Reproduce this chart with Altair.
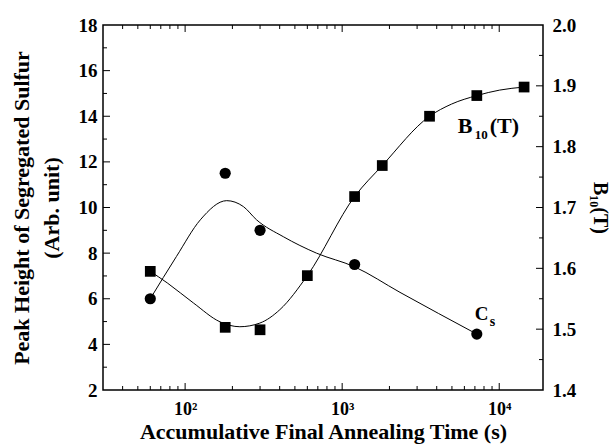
import altair as alt
import pandas as pd

# ---- data ----
cs_time = [60, 180, 300, 1200, 7200]
cs_peak = [6.0, 11.5, 9.0, 7.5, 4.45]

cs_fit_time = [60, 88, 125, 184, 235, 285, 422, 686, 1200, 2335, 7200]
cs_fit_peak = [6.0, 7.85, 9.46, 10.3, 10.04, 9.46, 8.72, 8.0, 7.4, 6.28, 4.45]

b10_time = [60, 180, 300, 600, 1200, 1800, 3600, 7200, 14400]
b10_val = [1.595, 1.503, 1.499, 1.588, 1.718, 1.769, 1.85, 1.884, 1.898]

b10_fit_time = [60, 77, 113, 167, 223, 299, 401, 600, 1200, 1800, 3600, 4970, 7200, 10070, 14400]
b10_fit_val = [1.595, 1.576, 1.543, 1.512, 1.504, 1.51, 1.532, 1.588, 1.718, 1.769, 1.85, 1.870, 1.884, 1.893, 1.898]

x_major_ticks = [100, 1000, 10000]
x_minor_ticks = [40, 50, 60, 70, 80, 90, 200, 300, 400, 500, 600, 700, 800, 900,
                 2000, 3000, 4000, 5000, 6000, 7000, 8000, 9000]
left_labels = [2, 4, 6, 8, 10, 12, 14, 16, 18]
left_major_ticks = [4, 6, 8, 10, 12, 14, 16]
left_minor_ticks = [3, 5, 7, 9, 11, 13, 15, 17]
right_labels = [1.4, 1.5, 1.6, 1.7, 1.8, 1.9, 2.0]
right_major_ticks = [1.5, 1.6, 1.7, 1.8, 1.9]
right_minor_ticks = [1.45, 1.55, 1.65, 1.75, 1.85, 1.95]

ann_text = ["B", "10", "(T)", "C", "s"]
ann_x = [5450, 6990, 8700, 6980, 8700]
ann_y = [13.27, 13.0, 13.27, 5.07, 4.8]
ann_size = [22, 13, 22, 19, 14]

FONT = "Liberation Serif"
W, H = 440, 365
XDOM = [30, 19000]

xscale = alt.Scale(type="log", domain=XDOM, nice=False)
yl = alt.Scale(domain=[2, 18], nice=False, zero=False)
yr = alt.Scale(domain=[1.4, 2.0], nice=False, zero=False)

cs_df = pd.DataFrame({"t": cs_time, "v": cs_peak})
cs_fit_df = pd.DataFrame({"t": cs_fit_time, "v": cs_fit_peak})
b_df = pd.DataFrame({"t": b10_time, "v": b10_val})
b_fit_df = pd.DataFrame({"t": b10_fit_time, "v": b10_fit_val})
ann_df = pd.DataFrame({"text": ann_text, "t": ann_x, "v": ann_y, "s": ann_size})

x_axis = alt.Axis(values=x_major_ticks, ticks=False, domain=False, grid=False,
                  labelExpr="datum.value == 100 ? '10²' : datum.value == 1000 ? '10³' : '10⁴'",
                  labelPadding=10, labelFontSize=18, titleFontSize=22, titleBaseline="alphabetic",
                  titleX=W / 2, titleY=48,
                  title="Accumulative Final Annealing Time (s)")

left_axis = alt.Axis(values=left_labels, ticks=False, domain=False, grid=False,
                     labelPadding=6,
                     title=["Peak Height of Segregated Sulfur", "(Arb. unit)"],
                     titleFontSize=22, titleLineHeight=30, titlePadding=15)

right_axis = alt.Axis(orient="right", values=right_labels, format=".1f",
                      ticks=False, domain=False, grid=False, labelPadding=9,
                      title="B₁₀(T)", titleFontSize=20, titlePadding=14)

X = alt.X("t:Q", scale=xscale, axis=x_axis)
YL = alt.Y("v:Q", scale=yl, axis=left_axis)
YR = alt.Y("v:Q", scale=yr, axis=right_axis)

cs_points = alt.Chart(cs_df).mark_point(shape="circle", filled=True, color="black", size=125, opacity=1).encode(
    x=X, y=YL)
cs_line = alt.Chart(cs_fit_df).mark_line(color="black", strokeWidth=1, interpolate="monotone").encode(
    x=X, y=YL)
ann = alt.Chart(ann_df).mark_text(font=FONT, fontWeight="bold", align="left", baseline="alphabetic",
                                  color="black").encode(
    x=X, y=YL, text="text:N", size=alt.Size("s:Q", scale=None, legend=None))


def ydf(vals):
    return pd.DataFrame({"v": vals})


def xdf(vals):
    return pd.DataFrame({"t": vals})


lt_major = alt.Chart(ydf(left_major_ticks)).mark_rule(color="black", strokeWidth=1).encode(
    y=YL, x=alt.value(0), x2=alt.value(7))
lt_minor = alt.Chart(ydf(left_minor_ticks)).mark_rule(color="black", strokeWidth=1).encode(
    y=YL, x=alt.value(0), x2=alt.value(4))

xb_major = alt.Chart(xdf(x_major_ticks)).mark_rule(color="black", strokeWidth=1).encode(
    x=X, y=alt.value(H), y2=alt.value(H - 7))
xb_minor = alt.Chart(xdf(x_minor_ticks)).mark_rule(color="black", strokeWidth=1).encode(
    x=X, y=alt.value(H), y2=alt.value(H - 4))
xt_major = alt.Chart(xdf(x_major_ticks)).mark_rule(color="black", strokeWidth=1).encode(
    x=X, y=alt.value(0), y2=alt.value(7))
xt_minor = alt.Chart(xdf(x_minor_ticks)).mark_rule(color="black", strokeWidth=1).encode(
    x=X, y=alt.value(0), y2=alt.value(4))

left_group = alt.layer(cs_points, cs_line, ann, lt_major, lt_minor, xb_major, xb_minor, xt_major, xt_minor)

b_points = alt.Chart(b_df).mark_point(shape="square", filled=True, color="black", size=115, opacity=1).encode(
    x=X, y=YR)
b_line = alt.Chart(b_fit_df).mark_line(color="black", strokeWidth=1, interpolate="monotone").encode(
    x=X, y=YR)
rt_major = alt.Chart(ydf(right_major_ticks)).mark_rule(color="black", strokeWidth=1).encode(
    y=YR, x=alt.value(W), x2=alt.value(W - 7))
rt_minor = alt.Chart(ydf(right_minor_ticks)).mark_rule(color="black", strokeWidth=1).encode(
    y=YR, x=alt.value(W), x2=alt.value(W - 4))

right_group = alt.layer(b_points, b_line, rt_major, rt_minor)

chart = alt.layer(left_group, right_group).resolve_scale(y="independent").properties(
    width=W, height=H,
    autosize=alt.AutoSizeParams(type="none"),
    padding={"left": 103, "top": 25, "right": 70, "bottom": 54},
    background="white",
).configure_view(stroke="black", strokeWidth=1.5).configure_axis(
    labelFont=FONT, labelFontWeight="bold", labelFontSize=19, labelColor="black",
    titleFont=FONT, titleFontWeight="bold", titleColor="black",
)

chart.save("out.html", embed_options={"renderer": "svg", "actions": False})
